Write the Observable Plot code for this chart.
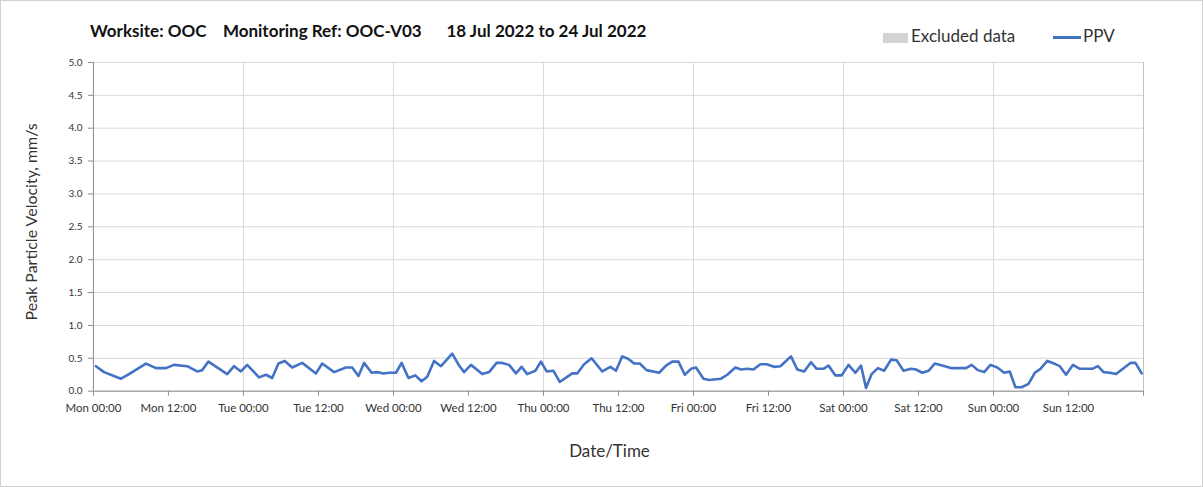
<!DOCTYPE html>
<html>
<head>
<meta charset="utf-8">
<script src="https://cdn.jsdelivr.net/npm/d3@7"></script>
<script src="https://cdn.jsdelivr.net/npm/@observablehq/plot@0.6"></script>
<style>
  html, body { margin: 0; padding: 0; background: #fff; }
  #wrap { position: relative; width: 1203px; height: 487px; box-sizing: border-box; border: 1px solid #d0d0d0; font-family: Lato, "Open Sans", sans-serif; overflow: hidden; }
  #title { position: absolute; left: 89px; top: 19px; font-size: 17px; font-weight: bold; color: #111; white-space: pre; }
  .leg { position: absolute; top: 24px; font-size: 17px; color: #333; }
  #chart { position: absolute; left: -1px; top: -1px; }
</style>
</head>
<body>
<div id="wrap">
  <div id="chart"></div>
  <div id="title">Worksite: OOC    Monitoring Ref: OOC-V03      18 Jul 2022 to 24 Jul 2022</div>
  <div class="leg" style="left:882px;"><span style="display:inline-block;width:25px;height:10px;background:#d3d3d3;vertical-align:middle;margin-right:3px;"></span>Excluded data</div>
  <div class="leg" style="left:1052px;"><span style="display:inline-block;width:28px;height:3px;background:#4472C4;vertical-align:middle;margin-right:2px;"></span>PPV</div>
</div>
<script>
// Hours since Mon 18 Jul 2022 00:00
const hours = [0.4,1.7,4.4,5.7,8.4,10.0,11.6,12.9,15.0,16.6,17.4,18.4,21.4,22.5,23.6,24.6,26.5,27.6,28.6,29.6,30.6,31.8,33.4,35.6,36.6,38.5,40.4,41.4,
42.4,43.3,44.5,45.4,46.4,47.3,48.4,49.3,50.4,51.5,52.5,53.4,54.5,55.6,57.4,58.5,59.3,60.4,62.2,63.3,64.5,65.4,66.5,67.6,68.5,69.4,70.7,71.6,72.5,73.6,74.6,76.6,77.4,78.5,79.7,81.4,82.7,
83.6,84.6,85.6,86.5,87.4,88.5,90.5,91.6,92.6,93.6,94.6,95.6,96.4,97.6,98.5,100.4,101.4,102.7,103.6,104.6,105.6,106.7,107.7,108.9,109.9,111.6,112.6,113.7,114.8,115.7,116.8,117.6,118.7,119.7,120.8,121.9,122.8,123.6,
124.5,125.5,126.5,127.6,128.5,129.6,130.8,131.6,132.6,133.6,134.6,136.2,137.3,138.6,139.6,140.5,141.5,142.5,143.5,144.6,145.7,146.6,147.5,148.5,149.6,150.6,151.5,152.6,153.7,154.6,155.6,156.7,157.8,158.8,159.8,160.7,161.6,162.6,163.6,164.7,165.9,166.7,167.7];
const ppv = [0.38,0.29,0.19,0.26,0.42,0.35,0.35,0.40,0.38,0.30,0.32,0.45,0.26,0.38,0.30,0.40,0.21,0.25,0.20,0.42,0.46,0.36,0.43,0.27,0.42,0.29,0.36,0.36,
0.23,0.43,0.28,0.29,0.27,0.28,0.28,0.43,0.20,0.24,0.15,0.22,0.46,0.38,0.57,0.39,0.29,0.40,0.26,0.29,0.43,0.43,0.40,0.27,0.37,0.26,0.31,0.45,0.30,0.31,0.14,0.27,0.27,0.41,0.50,0.30,0.37,
0.31,0.53,0.49,0.42,0.42,0.32,0.28,0.39,0.45,0.45,0.25,0.34,0.36,0.19,0.17,0.19,0.25,0.36,0.33,0.34,0.33,0.41,0.41,0.37,0.38,0.53,0.33,0.30,0.44,0.34,0.34,0.39,0.24,0.24,0.40,0.28,0.39,0.05,
0.26,0.35,0.31,0.48,0.47,0.31,0.34,0.33,0.28,0.31,0.42,0.38,0.35,0.35,0.35,0.40,0.32,0.29,0.40,0.36,0.28,0.30,0.06,0.06,0.11,0.28,0.34,0.46,0.42,0.38,0.25,0.40,0.34,0.34,0.34,0.38,0.29,0.28,0.26,0.34,0.43,0.43,0.27];
const yTicks = [0,0.5,1,1.5,2,2.5,3,3.5,4,4.5,5];

const t0 = Date.UTC(2022, 6, 18);
const tEnd = new Date(t0 + 168 * 3600e3);
const data = hours.map((h, i) => ({t: new Date(t0 + h * 3600e3), v: ppv[i]}));
const xTicks = d3.range(0, 168, 12).map(h => new Date(t0 + h * 3600e3));
const dayLines = d3.range(24, 168, 24).map(h => new Date(t0 + h * 3600e3));
const fmt = d3.utcFormat("%a %H:%M");

const chart = Plot.plot({
  width: 1203,
  height: 487,
  marginLeft: 93,
  marginRight: 59,
  marginTop: 62,
  marginBottom: 96,
  style: {fontFamily: "Lato, 'Open Sans', sans-serif", color: "#333"},
  x: {type: "utc", domain: [new Date(t0), tEnd]},
  y: {domain: [0, 5]},
  marks: [
    Plot.ruleY(yTicks, {stroke: "#d9d9d9", strokeWidth: 1}),
    Plot.ruleX(dayLines, {stroke: "#d9d9d9", strokeWidth: 1}),
    Plot.ruleX([tEnd], {stroke: "#bfbfbf", strokeWidth: 1}),
    Plot.ruleX([new Date(t0)], {stroke: "#8c8c8c", strokeWidth: 1}),
    Plot.ruleY([0], {stroke: "#8c8c8c", strokeWidth: 1}),
    Plot.axisY({ticks: yTicks, tickFormat: d => d.toFixed(1), tickSize: 5, tickPadding: 6, fontSize: 10, stroke: "#8c8c8c", label: null}),
    Plot.axisX({ticks: xTicks.concat([tEnd]), tickFormat: (d, i) => i < xTicks.length ? fmt(d) : "", tickSize: 5, tickPadding: 8, fontSize: 11.5, stroke: "#8c8c8c", label: null}),
    Plot.line(data, {x: "t", y: "v", stroke: "#4472C4", strokeWidth: 2.6, strokeLinejoin: "round"}),
    Plot.text(["Date/Time"], {frameAnchor: "bottom", dx: -9, dy: 66, fontSize: 17, fill: "#333"}),
    Plot.text(["Peak Particle Velocity, mm/s"], {frameAnchor: "left", textAnchor: "middle", dx: -62, dy: -5, rotate: -90, fontSize: 16, fill: "#333"})
  ]
});
document.getElementById("chart").appendChild(chart);
</script>
</body>
</html>
